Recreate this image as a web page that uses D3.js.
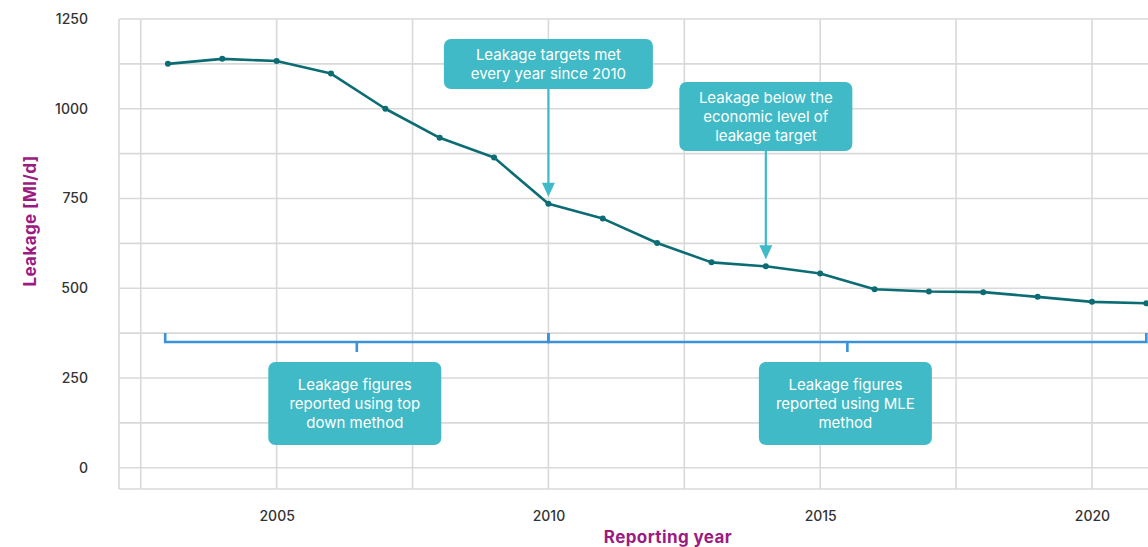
<!DOCTYPE html>
<html>
<head>
<meta charset="utf-8">
<script src="https://cdn.jsdelivr.net/npm/d3@7/dist/d3.min.js"></script>
<style>
  html, body { margin: 0; padding: 0; background: #ffffff; }
  svg { display: block; }
  text { font-family: Inter, Lato, sans-serif; }
</style>
</head>
<body>
<svg id="chart" width="1148" height="547"></svg>
<script>
// Annual leakage, Ml/d
const years = [2003, 2004, 2005, 2006, 2007, 2008, 2009, 2010, 2011, 2012,
               2013, 2014, 2015, 2016, 2017, 2018, 2019, 2020, 2021];
const leakage = [1125, 1139, 1133, 1098, 1000, 919, 864, 735, 694, 626,
                 572, 561, 541, 497, 491, 489, 476, 462, 458];

// Axis ticks
const yGridTicks = [0, 125, 250, 375, 500, 625, 750, 875, 1000, 1125, 1250];
const yLabelTicks = [0, 250, 500, 750, 1000, 1250];
const xGridTicks = [2002.5, 2005, 2007.5, 2010, 2012.5, 2015, 2017.5, 2020, 2022.5];
const xLabelTicks = [2005, 2010, 2015, 2020];

// Reporting method periods (start year, end year) and their labels
const periodStart = [2002.95, 2010];
const periodEnd = [2010, 2021];
const periodLabels = [
  ["Leakage figures", "reported using top", "down method"],
  ["Leakage figures", "reported using MLE", "method"]
];

// Callouts pointing at particular years
const calloutYears = [2010, 2014];
const calloutLabels = [
  ["Leakage targets met", "every year since 2010"],
  ["Leakage below the", "economic level of", "leakage target"]
];

const svg = d3.select("#chart");
const plot = { left: 119, right: 1217, top: 19, bottom: 489 };

const x = d3.scaleLinear().domain([2002.1, 2022.3]).range([plot.left, plot.right]);
const y = d3.scaleLinear().domain([0, 1250]).range([467.7, plot.top]);

const gridColor = "#d9d9d9";
const lineColor = "#0b6c74";
const calloutColor = "#3fbac6";
const bracketColor = "#3b92d8";
const titleColor = "#9b1b82";
const tickColor = "#333333";

// Grid and frame
const grid = svg.append("g");
grid.selectAll("line.h").data(yGridTicks).join("line")
  .attr("x1", plot.left).attr("x2", plot.right)
  .attr("y1", d => y(d)).attr("y2", d => y(d))
  .attr("stroke", gridColor).attr("stroke-width", 1.6);
grid.selectAll("line.v").data(xGridTicks).join("line")
  .attr("x1", d => x(d)).attr("x2", d => x(d))
  .attr("y1", plot.top).attr("y2", plot.bottom)
  .attr("stroke", gridColor).attr("stroke-width", 1.6);
grid.append("line")
  .attr("x1", plot.left).attr("x2", plot.left)
  .attr("y1", plot.top).attr("y2", plot.bottom)
  .attr("stroke", gridColor).attr("stroke-width", 1.6);
grid.append("line")
  .attr("x1", plot.left).attr("x2", plot.right)
  .attr("y1", plot.bottom).attr("y2", plot.bottom)
  .attr("stroke", gridColor).attr("stroke-width", 1.6);

// Axes (labels only)
const yAxis = svg.append("g")
  .attr("transform", `translate(${plot.left - 31},0)`)
  .call(d3.axisLeft(y).tickValues(yLabelTicks).tickSize(0).tickPadding(0).tickFormat(d3.format("d")));
yAxis.select(".domain").remove();
yAxis.selectAll("text")
  .attr("fill", tickColor).attr("font-size", 14).attr("font-weight", 500)
  .style("font-family", "Inter, sans-serif");

const xAxis = svg.append("g")
  .attr("transform", `translate(0,${plot.bottom + 22})`)
  .call(d3.axisBottom(x).tickValues(xLabelTicks).tickSize(0).tickPadding(0).tickFormat(d3.format("d")));
xAxis.select(".domain").remove();
xAxis.selectAll("text")
  .attr("fill", tickColor).attr("font-size", 14).attr("font-weight", 500)
  .style("font-family", "Inter, sans-serif");

// Axis titles
svg.append("text")
  .attr("transform", `translate(36,221) rotate(-90)`)
  .attr("text-anchor", "middle")
  .attr("fill", titleColor).attr("font-size", 17).attr("font-weight", 700)
  .attr("letter-spacing", 0.4)
  .text("Leakage [Ml/d]");
svg.append("text")
  .attr("x", (plot.left + plot.right) / 2).attr("y", 543)
  .attr("text-anchor", "middle")
  .attr("fill", titleColor).attr("font-size", 17).attr("font-weight", 700)
  .attr("letter-spacing", 0.4)
  .text("Reporting year");

// Reporting period brackets
const bTop = y(375), bMid = y(350), bTick = y(322);
const brackets = svg.append("g")
  .attr("fill", "none").attr("stroke", bracketColor).attr("stroke-width", 2.6);
periodStart.forEach((s, i) => {
  const e = periodEnd[i];
  const m = (s + e) / 2;
  brackets.append("path").attr("d",
    `M${x(s)},${bTop} V${bMid} H${x(m)} V${bTick} M${x(m)},${bMid} H${x(e)} V${bTop}`);
});

// Period label boxes
const boxW = 173, boxH = 83, lineH = 19;
periodLabels.forEach((lines, i) => {
  const cx = x((periodStart[i] + periodEnd[i]) / 2) - 2;
  const top = 362;
  const g = svg.append("g");
  g.append("rect").attr("x", cx - boxW / 2).attr("y", top)
    .attr("width", boxW).attr("height", boxH).attr("rx", 7)
    .attr("fill", calloutColor);
  g.selectAll("text").data(lines).join("text")
    .attr("x", cx).attr("y", (d, j) => top + 28 + j * lineH)
    .attr("text-anchor", "middle").attr("fill", "#ffffff")
    .attr("font-size", 15).text(d => d);
});

// Leakage line and points
const lineGen = d3.line().x((d, i) => x(years[i])).y(d => y(d));
svg.append("path").datum(leakage)
  .attr("d", lineGen)
  .attr("fill", "none").attr("stroke", lineColor).attr("stroke-width", 2.6)
  .attr("stroke-linejoin", "round");
svg.selectAll("circle.pt").data(leakage).join("circle")
  .attr("class", "pt")
  .attr("cx", (d, i) => x(years[i])).attr("cy", d => y(d))
  .attr("r", 3).attr("fill", lineColor);

// Callouts with arrows
const calloutBoxes = [
  { w: 209, top: 39 },
  { w: 173, top: 82 }
];
calloutYears.forEach((yr, i) => {
  const idx = years.indexOf(yr);
  const cx = x(yr);
  const lines = calloutLabels[i];
  const b = calloutBoxes[i];
  const h = 12 + lines.length * lineH;
  const tipY = y(leakage[idx]) - 7;
  const g = svg.append("g");
  g.append("line").attr("x1", cx).attr("x2", cx)
    .attr("y1", b.top + h - 2).attr("y2", tipY - 12)
    .attr("stroke", calloutColor).attr("stroke-width", 2.2);
  g.append("path")
    .attr("d", `M${cx - 6.5},${tipY - 14} L${cx + 6.5},${tipY - 14} L${cx},${tipY} Z`)
    .attr("fill", calloutColor);
  g.append("rect").attr("x", cx - b.w / 2).attr("y", b.top)
    .attr("width", b.w).attr("height", h).attr("rx", 7)
    .attr("fill", calloutColor);
  g.selectAll("text").data(lines).join("text")
    .attr("x", cx).attr("y", (d, j) => b.top + 21 + j * lineH)
    .attr("text-anchor", "middle").attr("fill", "#ffffff")
    .attr("font-size", 15).text(d => d);
});
</script>
</body>
</html>
